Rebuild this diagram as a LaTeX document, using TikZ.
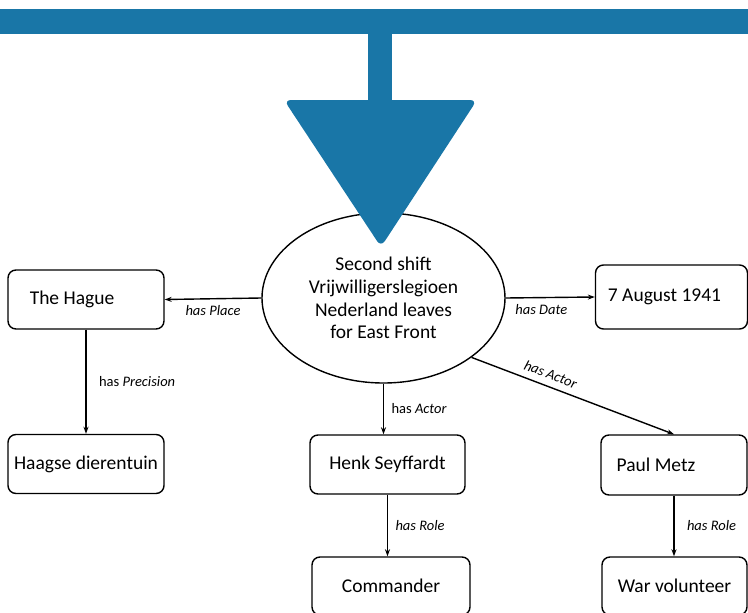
\documentclass[tikz,border=0pt]{standalone}
\usepackage{fontspec}
\setmainfont{Carlito}
\usetikzlibrary{arrows.meta,shapes.geometric,positioning}
\definecolor{flowblue}{RGB}{25,118,167}

\begin{document}
\begin{tikzpicture}[x=1pt,y=-1pt,>={Stealth[length=7pt,width=5pt]},line width=1.4pt]
        \tikzstyle{entity}=[draw,rounded corners=8pt,minimum width=156pt,minimum height=59pt,font=\fontsize{19.5}{23}\selectfont]
        \tikzstyle{event}=[draw,ellipse,minimum width=243pt,minimum height=170pt,align=center,font=\fontsize{19.5}{22.7}\selectfont]
        \tikzstyle{rel}=[font=\fontsize{14.5}{16}\selectfont]

        \useasboundingbox (0,0) rectangle (748,613);

        \node[event]  (EVT) at (383.5,298)  {Second shift\\Vrijwilligerslegioen\\Nederland leaves\\for East Front};
        \node[entity] (HAG) at (86,299.5)   {\hspace*{-28pt}The Hague};
        \node[entity] (ZOO) at (86,464)     {Haagse dierentuin}; % precision
        \node[entity,minimum width=152pt,minimum height=64pt] (DAT) at (671.5,297) {\hspace*{-14pt}7 August 1941};
        \node[entity,minimum width=155pt] (HNK) at (387.5,464.5) {Henk Seyffardt};
        \node[entity,minimum width=146pt,minimum height=60pt] (PAU) at (674,465) {\hspace*{-36pt}Paul Metz};
        \node[entity,minimum width=158pt,minimum height=58pt] (COM) at (391,586) {Commander}; % roles
        \node[entity,minimum width=145pt,minimum height=58pt] (WAR) at (674.5,586) {War volunteer};

        \path[->]
                  (EVT.west)  edge node [rel,below=3pt]              {\textit{has Place}}     (HAG.east)
                  (EVT.east)  edge node [rel,below=3pt,pos=0.4]      {\textit{has Date}}      (DAT.west)
                  (EVT.south) edge node [rel,right=4pt]              {has \textit{Actor}}     (EVT.south |- HNK.north)
                  (EVT.-34.6) edge node [rel,above=3pt,sloped,pos=0.37] {\textit{has Actor}} (PAU.north)
                  (HAG.south) edge node [rel,right=9pt]              {has \textit{Precision}} (ZOO.north)
                  (HNK.south) edge node [rel,right=4pt]              {\textit{has Role}}      (HNK.south |- COM.north)
                  (PAU.south) edge node [rel,right=9pt]              {\textit{has Role}}      (PAU.south |- WAR.north);

        % blue arrow on top
        \fill[flowblue] (0,9) rectangle (748,34);
        \fill[flowblue] (368,33) rectangle (392,102);
        \fill[flowblue,rounded corners=7pt] (284,100) -- (477,100) -- (381,247) -- cycle;
\end{tikzpicture}
\end{document}
